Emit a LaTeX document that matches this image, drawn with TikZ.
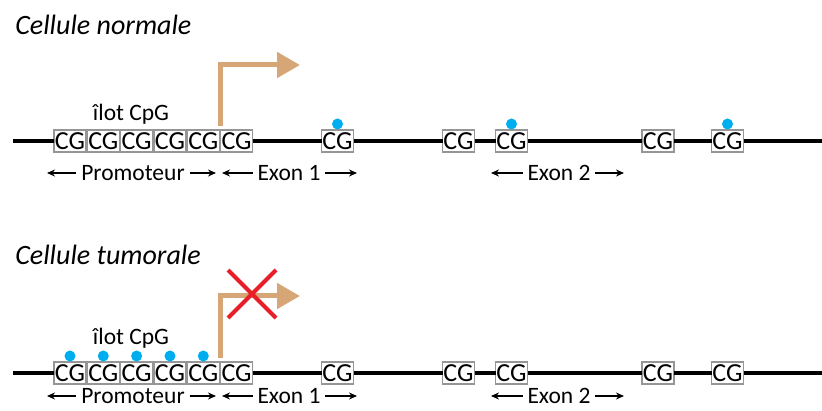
\documentclass[tikz,border=0pt]{standalone}
\usepackage{fontspec}
\setmainfont{Carlito}
\usetikzlibrary{positioning}
\usetikzlibrary{arrows.meta}

\definecolor{arrowtan}{RGB}{214,166,118}
\definecolor{methylblue}{RGB}{0,174,239}
\definecolor{crossred}{RGB}{232,30,40}
\definecolor{boxgray}{RGB}{150,150,150}

\begin{document}
\begin{tikzpicture}[x=1pt,y=-1pt,
 every node/.style={outer sep=0pt,font=\fontsize{23.5}{28}\selectfont},
 cg/.style={draw=boxgray,fill=white,line width=1.5pt,minimum width=32pt,
 minimum height=22pt,inner sep=0pt,font=\fontsize{26}{30}\selectfont},
 dna/.style={line width=4pt},
 methyl/.style={fill=methylblue,circle,minimum size=11pt,inner sep=0pt},
 tss/.style={arrowtan,line width=5pt,-{Triangle[length=23pt,width=25pt]}},
 span/.style={line width=1.5pt,-{Stealth[length=8pt,width=7pt]}},
 region/.style={inner xsep=5pt,inner ysep=0.5pt},
 cross/.style={crossred,line width=4pt},
 title/.style={font=\fontsize{28}{32}\selectfont\itshape,anchor=base west}]

  \useasboundingbox (0,0) rectangle (822,411);

  % normal cell
  \node[title] (nTitle) at (12,35) {Cellule normale};
  \coordinate (nL) at (13,141);
  \coordinate (nR) at (822,141);
  \foreach \i/\x in {1/70,2/103.3,3/136.6,4/170,5/203.3,6/236.6,
   7/337.5,8/458.5,9/511.5,10/658,11/727.5}
   \node[cg] (n\i) at (\x,141) {CG};
  \foreach \a/\b in {L/1,6/7,7/8,8/9,9/10,10/11,11/R}
   \draw[dna] (n\a) -- (n\b);
  \foreach \i in {7,9,11}
   \node[methyl,above=0.5pt of n\i] (nm\i) {};
  \node[anchor=base] (nIlot) at (131,121) {îlot CpG};
  \coordinate (nTip) at (300,65);
  \draw[tss] ([yshift=4pt]n6.north west) |- (nTip);

  % tumour cell
  \node[title] (tTitle) at (12,265) {Cellule tumorale};
  \coordinate (tL) at (13,373);
  \coordinate (tR) at (822,373);
  \foreach \i/\x in {1/70,2/103.3,3/136.6,4/170,5/203.3,6/236.6,
   7/337.5,8/458.5,9/511.5,10/658,11/727.5}
   \node[cg] (t\i) at (\x,373) {CG};
  \foreach \a/\b in {L/1,6/7,7/8,8/9,9/10,10/11,11/R}
   \draw[dna] (t\a) -- (t\b);
  \foreach \i in {1,...,5}
   \node[methyl,above=0.5pt of t\i] (tm\i) {};
  \node[anchor=base] (tIlot) at (131,345) {îlot CpG};
  \coordinate (tTip) at (300,296);
  \draw[tss] ([yshift=4pt]t6.north west) |- (tTip);
  \coordinate (tX) at (252,294);
  \draw[cross] (tX) ++(-24,-24) -- ++(48,48) (tX) ++(-24,24) -- ++(48,-48);

  % regions
  \foreach \r/\y in {n/173,t/396}
  {\node[region] (\r Prom) at (133,\y) {Promoteur};
   \node[region] (\r Ex1) at (289,\y) {Exon 1};
   \node[region] (\r Ex2) at (559,\y) {Exon 2};
   \coordinate (\r PromL) at (47,\y);  \coordinate (\r PromR) at (216,\y);
   \coordinate (\r ExaL) at (222,\y);  \coordinate (\r ExaR) at (357,\y);
   \coordinate (\r ExbL) at (491,\y);  \coordinate (\r ExbR) at (624,\y);
   \draw[span] (\r Prom) -- (\r PromL);
   \draw[span] (\r Prom) -- (\r PromR);
   \draw[span] (\r Ex1) -- (\r ExaL);
   \draw[span] (\r Ex1) -- (\r ExaR);
   \draw[span] (\r Ex2) -- (\r ExbL);
   \draw[span] (\r Ex2) -- (\r ExbR);
  }

\end{tikzpicture}
\end{document}
